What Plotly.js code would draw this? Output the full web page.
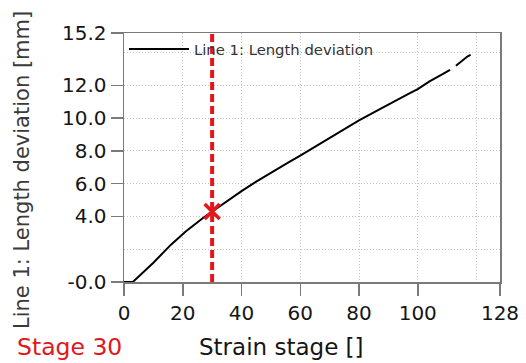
<!DOCTYPE html>
<html><head><meta charset="utf-8">
<script src="https://cdn.plot.ly/plotly-3.0.1.min.js"></script>
<style>html,body{margin:0;padding:0;background:#fff}#chart{width:526px;height:363px}</style>
</head><body><div id="chart"></div>
<script>
const stages = [0,3,6,10,16,21,27,30,35,40,45,50,56,60,66,72,80,86,92,97,100,104,108,111,112,113,116,117,118];
const deviation = [0,0,0.5,1.18,2.28,3.08,3.92,4.3,4.93,5.55,6.13,6.68,7.3,7.72,8.36,9.0,9.87,10.45,11.05,11.5,11.78,12.25,12.65,12.95,null,13.2,13.62,13.78,13.86];
const seriesName = 'Line 1: Length deviation';
const currentStage = 30;
const stageLabel = 'Stage 30';
const xTitle = 'Strain stage []';
const yTitle = 'Line 1: Length deviation [mm]';
const xTickVals = [0,20,40,60,80,100,128];
const xTickText = ['0','20','40','60','80','100','128'];
const yTickVals = [0,4,6,8,10,12,15.2];
const yTickText = ['-0.0','4.0','6.0','8.0','10.0','12.0','15.2'];
const xMinorGrid = [120];
const yMinorGrid = [2,14];

const currentValue = deviation[stages.indexOf(currentStage)];
const FONT = 'DejaVu Sans, Verdana, sans-serif';
const RED = '#e3161c';
const AX = '#7a7a7a';
const GRID = '#c4c4c4';
const GRIDDASH = '1px,2px';

const traces = [
  {x: stages, y: deviation, type: 'scatter', mode: 'lines', name: seriesName,
   line: {color: '#000', width: 2}, connectgaps: false},
  {x: [currentStage], y: [currentValue], type: 'scatter', mode: 'markers', showlegend: false,
   marker: {symbol: 'x-thin', size: 15, color: RED, line: {color: RED, width: 3.5}}}
];

const axisCommon = {
  ticks: 'outside', ticklen: 12, tickwidth: 1.5, tickcolor: AX,
  showline: true, linecolor: AX, linewidth: 1.5, mirror: true,
  showgrid: true, gridcolor: GRID, griddash: GRIDDASH, gridwidth: 1,
  zeroline: false, tickmode: 'array',
  tickfont: {family: FONT, size: 20, color: '#151515'}
};

const layout = {
  width: 526, height: 363,
  margin: {l: 124, r: 26, t: 33, b: 81},
  paper_bgcolor: '#fff', plot_bgcolor: '#fff',
  showlegend: true,
  legend: {x: 0.0, y: 1.0, xanchor: 'left', yanchor: 'top', bgcolor: 'rgba(0,0,0,0)',
           font: {family: FONT, size: 14.8, color: '#333'}, itemwidth: 60},
  xaxis: Object.assign({}, axisCommon, {range: [0,128], tickvals: xTickVals, ticktext: xTickText,
    minor: {tickmode: 'array', tickvals: xMinorGrid, showgrid: true, gridcolor: GRID, griddash: GRIDDASH, gridwidth: 1, ticks: ''}}),
  yaxis: Object.assign({}, axisCommon, {range: [0,15.2], tickvals: yTickVals, ticktext: yTickText,
    minor: {tickmode: 'array', tickvals: yMinorGrid, showgrid: true, gridcolor: GRID, griddash: GRIDDASH, gridwidth: 1, ticks: ''}}),
  shapes: [
    {type: 'line', xref: 'x', yref: 'paper', x0: currentStage, x1: currentStage, y0: 0, y1: 1,
     line: {color: RED, width: 4, dash: '8px,4px'}}
  ],
  annotations: [
    {text: yTitle, xref: 'paper', yref: 'paper', x: -0.271, y: 0.45, textangle: -90,
     showarrow: false, xanchor: 'center', yanchor: 'middle', font: {family: FONT, size: 21, color: '#3a3a3a'}},
    {text: xTitle, xref: 'paper', yref: 'paper', x: 0.418, y: -0.261,
     showarrow: false, xanchor: 'center', yanchor: 'middle', font: {family: FONT, size: 23, color: '#151515'}},
    {text: stageLabel, xref: 'paper', yref: 'paper', x: -0.145, y: -0.261,
     showarrow: false, xanchor: 'center', yanchor: 'middle', font: {family: FONT, size: 23.5, color: RED}}
  ]
};

Plotly.newPlot('chart', traces, layout, {displayModeBar: false, staticPlot: true});
</script></body></html>
